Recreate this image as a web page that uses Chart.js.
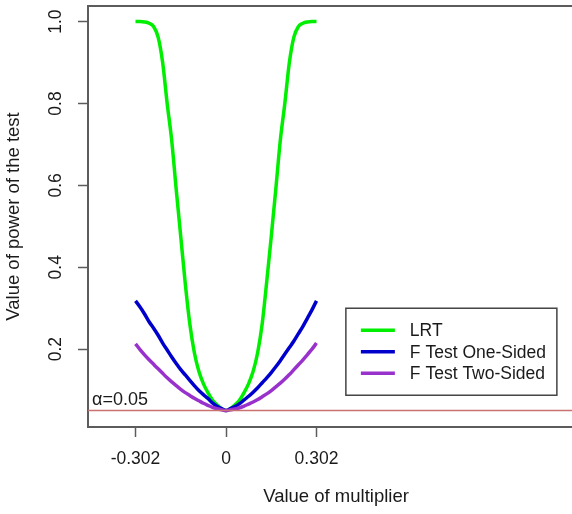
<!DOCTYPE html>
<html>
<head>
<meta charset="utf-8">
<title>Power of the test</title>
<script src="https://cdn.jsdelivr.net/npm/chart.js@4/dist/chart.umd.min.js"></script>
<style>
  html, body { margin: 0; padding: 0; background: #fff; overflow: hidden; }
  #wrap { width: 590px; height: 514px; }
</style>
</head>
<body>
<div id="wrap"><canvas id="powerChart" width="590" height="514"></canvas></div>
<script>
// multiplier grid
var xVals = [
  -0.302, -0.2869, -0.2718, -0.2567, -0.2416, -0.2265, -0.2114, -0.1963, -0.1812, -0.1661,
  -0.151, -0.1359, -0.1208, -0.1057, -0.0906, -0.0755, -0.0604, -0.0453, -0.0302, -0.0151,
  0,
  0.0151, 0.0302, 0.0453, 0.0604, 0.0755, 0.0906, 0.1057, 0.1208, 0.1359, 0.151,
  0.1661, 0.1812, 0.1963, 0.2114, 0.2265, 0.2416, 0.2567, 0.2718, 0.2869, 0.302
];

var lrtPower = [
  1.000, 1.000, 0.999, 0.996, 0.988, 0.962, 0.900, 0.800, 0.710, 0.590,
  0.475, 0.360, 0.262, 0.192, 0.146, 0.116, 0.094, 0.076, 0.064, 0.055,
  0.050,
  0.055, 0.064, 0.076, 0.094, 0.116, 0.146, 0.192, 0.262, 0.365, 0.475,
  0.590, 0.710, 0.800, 0.900, 0.962, 0.988, 0.996, 0.999, 1.000, 1.000
];

var fOnePower = [
  0.318, 0.303, 0.286, 0.267, 0.251, 0.234, 0.215, 0.198, 0.181, 0.165,
  0.150, 0.137, 0.124, 0.111, 0.099, 0.089, 0.080, 0.069, 0.061, 0.055,
  0.050,
  0.055, 0.060, 0.067, 0.076, 0.085, 0.095, 0.106, 0.118, 0.130, 0.143,
  0.157, 0.172, 0.188, 0.204, 0.220, 0.238, 0.256, 0.276, 0.296, 0.318
];

var fTwoPower = [
  0.213, 0.199, 0.186, 0.174, 0.163, 0.152, 0.141, 0.130, 0.120, 0.111,
  0.102, 0.094, 0.087, 0.080, 0.074, 0.068, 0.063, 0.058, 0.055, 0.052,
  0.050,
  0.052, 0.054, 0.057, 0.061, 0.066, 0.071, 0.077, 0.084, 0.091, 0.099,
  0.108, 0.117, 0.127, 0.138, 0.150, 0.162, 0.174, 0.187, 0.200, 0.215
];

var seriesNames = ['LRT', 'F Test One-Sided', 'F Test Two-Sided'];
var xTicks = [-0.302, 0, 0.302];
var yTicks = [0.2, 0.4, 0.6, 0.8, 1.0];
var alpha = 0.05;

var X_MIN = -0.4605, X_MAX = 1.1946;
var Y_MIN = 0.010, Y_MAX = 1.038;
var legendAt = { x: 0.4, y: 0.3 };

var FONT = '"Liberation Sans", Arial, sans-serif';
var AXIS = '#5c5c5c';
var TEXT = '#1a1a1a';
var colors = ['#00ee00', '#0000cd', '#9932cc'];
var ALPHA_COLOR = '#c97272';

function pts(ys) {
  return xVals.map(function(x, i) { return { x: x, y: ys[i] }; });
}

// top edge of the box, alpha label and the legend
var decorations = {
  id: 'decorations',
  afterDraw: function(chart) {
    var ctx = chart.ctx, a = chart.chartArea;
    var xs = chart.scales.x, ys = chart.scales.y;
    ctx.save();

    ctx.strokeStyle = AXIS;
    ctx.lineWidth = 2;
    ctx.beginPath();
    ctx.moveTo(a.left, a.top);
    ctx.lineTo(a.right, a.top);
    ctx.stroke();

    ctx.fillStyle = TEXT;
    ctx.font = '18px ' + FONT;
    ctx.textAlign = 'left';
    ctx.textBaseline = 'alphabetic';
    ctx.fillText('\u03b1=' + alpha, a.left + 4, ys.getPixelForValue(alpha) - 6);

    // legend box anchored at data coordinates
    var bx = xs.getPixelForValue(legendAt.x);
    var by = ys.getPixelForValue(legendAt.y);
    var bw = 211, bh = 87;
    ctx.strokeStyle = '#444';
    ctx.lineWidth = 1.5;
    ctx.strokeRect(bx, by, bw, bh);
    ctx.font = '17.5px ' + FONT;
    ctx.textBaseline = 'middle';
    seriesNames.forEach(function(name, i) {
      var ly = by + 22 + i * 21.5;
      ctx.strokeStyle = colors[i];
      ctx.lineWidth = 3.5;
      ctx.beginPath();
      ctx.moveTo(bx + 15, ly);
      ctx.lineTo(bx + 49, ly);
      ctx.stroke();
      ctx.fillStyle = TEXT;
      ctx.fillText(name, bx + 64, ly + 1);
    });
    ctx.restore();
  }
};

function lineSet(label, ys, color, order) {
  return {
    label: label,
    data: pts(ys),
    borderColor: color,
    borderWidth: 3.5,
    pointRadius: 0,
    cubicInterpolationMode: 'monotone',
    fill: false,
    order: order
  };
}

new Chart(document.getElementById('powerChart'), {
  type: 'line',
  data: {
    datasets: [
      lineSet(seriesNames[0], lrtPower, colors[0], 3),
      lineSet(seriesNames[1], fOnePower, colors[1], 2),
      lineSet(seriesNames[2], fTwoPower, colors[2], 1),
      {
        label: 'alpha',
        data: [{ x: X_MIN, y: alpha }, { x: X_MAX, y: alpha }],
        borderColor: ALPHA_COLOR,
        borderWidth: 1.5,
        pointRadius: 0,
        order: 0
      }
    ]
  },
  options: {
    responsive: false,
    animation: false,
    layout: { padding: { top: 6, right: 6, left: 0, bottom: 0 } },
    plugins: { legend: { display: false }, tooltip: { enabled: false } },
    scales: {
      x: {
        type: 'linear',
        min: X_MIN,
        max: X_MAX,
        afterBuildTicks: function(s) { s.ticks = xTicks.map(function(v) { return { value: v }; }); },
        afterFit: function(s) { s.height = 87; s.paddingLeft = 0; s.paddingRight = 0; },
        ticks: {
          autoSkip: false, maxRotation: 0, padding: 12, color: TEXT,
          font: { family: FONT, size: 17.5 },
          callback: function(v) { return String(v); }
        },
        grid: { drawOnChartArea: false, tickLength: 10, tickColor: AXIS, tickWidth: 1.5 },
        border: { color: AXIS, width: 2 },
        title: {
          display: true, text: 'Value of multiplier', color: TEXT,
          font: { family: FONT, size: 18.5 }, padding: { top: 0, bottom: 6 }
        }
      },
      y: {
        min: Y_MIN,
        max: Y_MAX,
        afterBuildTicks: function(s) { s.ticks = yTicks.map(function(v) { return { value: v }; }); },
        afterFit: function(s) { s.width = 88; s.paddingTop = 0; s.paddingBottom = 0; },
        ticks: {
          minRotation: 90, maxRotation: 90, crossAlign: 'center', padding: 10, color: TEXT,
          font: { family: FONT, size: 17.5 },
          callback: function(v) { return v.toFixed(1); }
        },
        grid: { drawOnChartArea: false, tickLength: 10, tickColor: AXIS, tickWidth: 1.5 },
        border: { color: AXIS, width: 2 },
        title: {
          display: true, text: 'Value of power of the test', color: TEXT,
          font: { family: FONT, size: 18.5 }, padding: { top: 3, bottom: 0 }
        }
      }
    }
  },
  plugins: [decorations]
});
</script>
</body>
</html>
